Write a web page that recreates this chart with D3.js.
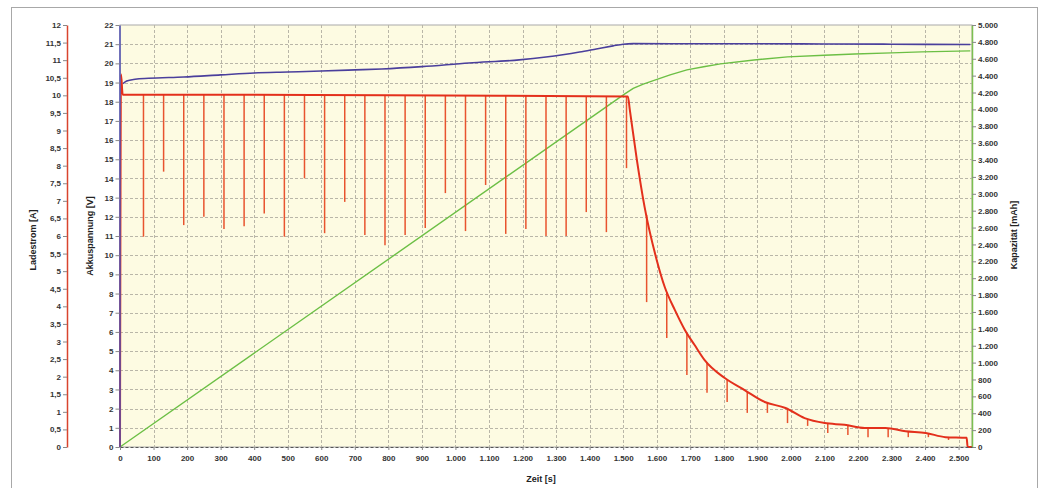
<!DOCTYPE html>
<html>
<head>
<meta charset="utf-8">
<script src="https://cdn.jsdelivr.net/npm/d3@7"></script>
<style>
    body { margin: 0; background: #fff; }
    svg text { font-family: "Liberation Sans", Arial, sans-serif; }
    .tick text { font-size: 8px; font-weight: bold; fill: #333; }
    .tick line { stroke: #888; }
    .axisTitle { font-size: 9px; font-weight: bold; fill: #222; }
</style>
</head>
<body>
<div id="chart"></div>
<script>
// tick values
var timeTicks = [0, 100, 200, 300, 400, 500, 600, 700, 800, 900, 1000, 1100, 1200, 1300,
                 1400, 1500, 1600, 1700, 1800, 1900, 2000, 2100, 2200, 2300, 2400, 2500];
var voltTicks = [0, 1, 2, 3, 4, 5, 6, 7, 8, 9, 10, 11, 12, 13, 14, 15, 16, 17, 18, 19, 20, 21, 22];
var ampTicks = [0, 0.5, 1, 1.5, 2, 2.5, 3, 3.5, 4, 4.5, 5, 5.5, 6, 6.5, 7, 7.5, 8, 8.5, 9, 9.5,
                10, 10.5, 11, 11.5, 12];
var capTicks = [0, 200, 400, 600, 800, 1000, 1200, 1400, 1600, 1800, 2000, 2200, 2400, 2600,
                2800, 3000, 3200, 3400, 3600, 3800, 4000, 4200, 4400, 4600, 4800, 5000];

// Akkuspannung [V]
var voltTime = [9, 20, 45, 85, 190, 300, 400, 500, 600, 700, 780, 900, 1040, 1190, 1270, 1320,
                1370, 1420, 1470, 1500, 1530, 1700, 1900, 2100, 2300, 2535];
var voltValue = [18.95, 19.08, 19.17, 19.22, 19.29, 19.4, 19.5, 19.55, 19.6, 19.66, 19.71, 19.83,
                 20.02, 20.18, 20.33, 20.45, 20.59, 20.75, 20.91, 21.0, 21.03, 21.02, 21.02, 21.01, 21.0, 20.98];

// Kapazitaet [mAh]
var capTime = [0, 1505, 1530, 1560, 1590, 1640, 1690, 1740, 1790, 1890, 1990, 2100, 2190, 2300, 2390, 2535];
var capValue = [0, 4184, 4250, 4300, 4340, 4410, 4468, 4505, 4539, 4586, 4622, 4642, 4657, 4670, 4681, 4693];

// Ladestrom [A], base curve
var curTime = [0, 3, 8, 200, 800, 1514, 1520, 1541, 1564, 1600, 1624, 1654, 1684, 1713, 1743, 1803,
               1862, 1922, 1984, 2041, 2101, 2160, 2220, 2282, 2342, 2402, 2461, 2524, 2527, 2540];
var curAmp = [0, 10.6, 10.02, 10.02, 10.0, 9.97, 9.58, 8.16, 6.82, 5.32, 4.55, 3.9, 3.33, 2.9, 2.47, 1.96,
              1.62, 1.28, 1.11, 0.82, 0.68, 0.63, 0.54, 0.54, 0.45, 0.4, 0.28, 0.26, 0, 0];

// Ladestrom dips (measurement pauses)
var spikeTime = [70, 130, 190, 250, 310, 370, 430, 490, 550, 610, 670, 730, 790, 850, 910, 970, 1030,
                 1090, 1150, 1210, 1270, 1330, 1390, 1450, 1510, 1570, 1630, 1690, 1750, 1810, 1870,
                 1930, 1990, 2050, 2110, 2170, 2230, 2290, 2350, 2410, 2470];
var spikeTop = [10.02, 10.02, 10.02, 10.02, 10.01, 10.01, 10.01, 10.01, 10.0, 10.0, 10.0, 10.0, 10.0,
                10.0, 10.0, 9.99, 9.99, 9.99, 9.98, 9.98, 9.98, 9.98, 9.97, 9.97, 9.97,
                6.6, 4.4, 3.22, 2.4, 1.93, 1.58, 1.26, 1.08, 0.8, 0.67, 0.62, 0.54, 0.53, 0.45, 0.39, 0.28];
var spikeLow = [5.98, 7.83, 6.31, 6.55, 6.2, 6.28, 6.64, 5.98, 7.64, 6.08, 6.97, 6.03, 5.74, 6.03,
                6.23, 7.22, 6.14, 7.45, 6.06, 6.2, 6.0, 6.0, 6.68, 6.11, 7.93,
                4.12, 3.1, 2.05, 1.54, 1.28, 0.97, 0.97, 0.68, 0.6, 0.4, 0.34, 0.28, 0.28, 0.28, 0.28, 0.2];

var svgWidth = 1045;
var svgHeight = 488;
var plot = { left: 120, right: 972, top: 25, bottom: 447 };

var de = d3.formatLocale({ decimal: ",", thousands: ".", grouping: [3], currency: ["", " €"] });
var fmtInt = de.format(",.0f");
var fmtAmp = de.format(".1~f");

var svg = d3.select("#chart")
    .append("svg")
    .attr("width", svgWidth)
    .attr("height", svgHeight);

// outer frame
svg.append("rect")
    .attr("x", 11.5).attr("y", 7.5)
    .attr("width", 1026).attr("height", 500)
    .attr("fill", "#fff")
    .attr("stroke", "#a8a8a8");

var xScale = d3.scaleLinear().domain([0, 2540]).range([plot.left, plot.right]);
var yVolt = d3.scaleLinear().domain([0, 22]).range([plot.bottom, plot.top]);
var yAmp = d3.scaleLinear().domain([0, 12]).range([plot.bottom, plot.top]);
var yCap = d3.scaleLinear().domain([0, 5000]).range([plot.bottom, plot.top]);

// plot background
svg.append("rect")
    .attr("x", plot.left).attr("y", plot.top)
    .attr("width", plot.right - plot.left)
    .attr("height", plot.bottom - plot.top)
    .attr("fill", "#fdfbe2")
    .attr("stroke", "#aaa");

// grid
var grid = svg.append("g")
    .attr("stroke", "#b9b6a8")
    .attr("stroke-dasharray", "3,2")
    .attr("stroke-width", 1);

grid.selectAll(".vg")
    .data(timeTicks.filter(d => d > 0))
    .enter()
    .append("line")
    .attr("x1", d => Math.round(xScale(d)) + 0.5)
    .attr("x2", d => Math.round(xScale(d)) + 0.5)
    .attr("y1", plot.top)
    .attr("y2", plot.bottom);

grid.selectAll(".hg")
    .data(voltTicks.filter(d => d > 0 && d < 22))
    .enter()
    .append("line")
    .attr("x1", plot.left)
    .attr("x2", plot.right)
    .attr("y1", d => Math.round(yVolt(d)) + 0.5)
    .attr("y2", d => Math.round(yVolt(d)) + 0.5);

// series
var capLine = d3.line()
    .x((d, i) => xScale(capTime[i]))
    .y(d => yCap(d));

svg.append("path")
    .attr("d", capLine(capValue))
    .attr("fill", "none")
    .attr("stroke", "#6cbf45")
    .attr("stroke-width", 1.4);

var voltLine = d3.line()
    .x((d, i) => xScale(voltTime[i]))
    .y(d => yVolt(d))
    .curve(d3.curveMonotoneX);

svg.append("path")
    .attr("d", voltLine(voltValue))
    .attr("fill", "none")
    .attr("stroke", "#4a3f9c")
    .attr("stroke-width", 1.6);

svg.append("g")
    .selectAll("line")
    .data(spikeTime)
    .enter()
    .append("line")
    .attr("x1", d => xScale(d))
    .attr("x2", d => xScale(d))
    .attr("y1", (d, i) => yAmp(spikeTop[i]))
    .attr("y2", (d, i) => yAmp(spikeLow[i]))
    .attr("stroke", "#e8532e")
    .attr("stroke-width", 1.5);

var curLine = d3.line()
    .x((d, i) => xScale(curTime[i]))
    .y(d => yAmp(d))
    .curve(d3.curveMonotoneX);

svg.append("path")
    .attr("d", curLine(curAmp))
    .attr("fill", "none")
    .attr("stroke", "#e3301c")
    .attr("stroke-width", 2);

// axes
var ampAxis = svg.append("g")
    .attr("transform", "translate(67,0)")
    .call(d3.axisLeft(yAmp).tickValues(ampTicks).tickFormat(fmtAmp).tickSize(4).tickSizeOuter(0).tickPadding(2));
ampAxis.select(".domain").attr("stroke", "#d9442e").attr("stroke-width", 1.5);

var voltAxis = svg.append("g")
    .attr("transform", "translate(119.5,0)")
    .call(d3.axisLeft(yVolt).tickValues(voltTicks).tickSize(4).tickSizeOuter(0).tickPadding(2));
voltAxis.select(".domain").attr("stroke", "#4f4fb0").attr("stroke-width", 1.5);

var capAxis = svg.append("g")
    .attr("transform", "translate(972,0)")
    .call(d3.axisRight(yCap).tickValues(capTicks).tickFormat(fmtInt).tickSize(4).tickSizeOuter(0).tickPadding(2));
capAxis.select(".domain").attr("stroke", "#7cc050").attr("stroke-width", 1.5);

var timeAxis = svg.append("g")
    .attr("transform", `translate(0, ${plot.bottom})`)
    .call(d3.axisBottom(xScale).tickValues(timeTicks).tickFormat(fmtInt).tickSize(3).tickSizeOuter(0).tickPadding(5));
timeAxis.select(".domain").attr("stroke", "#555").attr("stroke-dasharray", "3,2");

svg.selectAll(".domain").attr("fill", "none");
svg.selectAll(".tick text").attr("font-family", null).attr("font-size", null);

// titles
svg.append("text")
    .attr("class", "axisTitle")
    .attr("transform", "translate(36,240) rotate(-90)")
    .attr("text-anchor", "middle")
    .text("Ladestrom [A]");

svg.append("text")
    .attr("class", "axisTitle")
    .attr("transform", "translate(93,236) rotate(-90)")
    .attr("text-anchor", "middle")
    .text("Akkuspannung [V]");

svg.append("text")
    .attr("class", "axisTitle")
    .attr("transform", "translate(1017,235) rotate(-90)")
    .attr("text-anchor", "middle")
    .text("Kapazität [mAh]");

svg.append("text")
    .attr("class", "axisTitle")
    .attr("x", 541)
    .attr("y", 482)
    .attr("text-anchor", "middle")
    .text("Zeit [s]");
</script>
</body>
</html>
